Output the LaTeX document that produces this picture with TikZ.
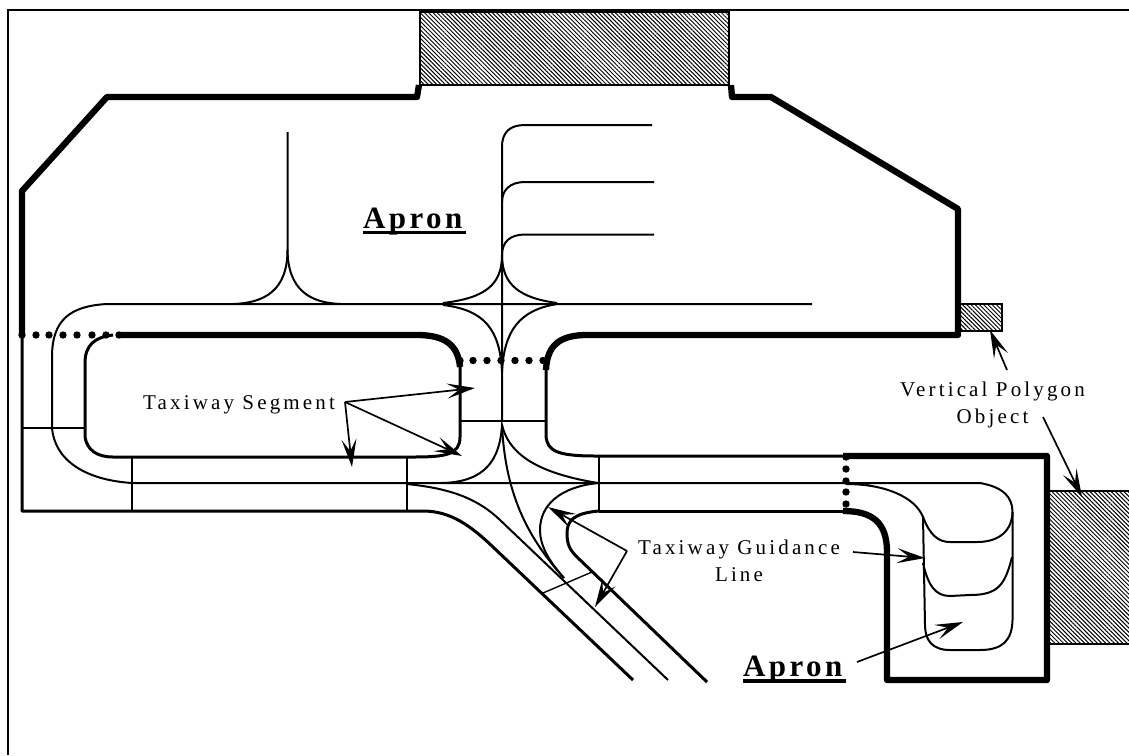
\documentclass[tikz,border=0pt]{standalone}
\usepackage{fontspec}
\setmainfont{Liberation Serif}
\newfontfamily\labelfont[LetterSpace=15]{Liberation Serif}
\newfontfamily\apronfont[LetterSpace=11]{Liberation Serif}
\usetikzlibrary{arrows.meta, positioning, calc, patterns.meta}
\tikzset{
  boundary/.style={line width=6.3pt, line join=round},
  edgeline/.style={line width=3pt, line join=round},
  guideline/.style={line width=2pt},
  thinline/.style={line width=1.4pt},
  hatched/.style={draw, line width=1.5pt, pattern={Lines[angle=-45,distance=3pt,line width=1pt]}},
  pointer/.style={line width=1.7pt, -{Stealth[length=28pt,width=15pt,inset=12pt]}},
  smalltext/.style={font=\labelfont\fontsize{21}{27}\selectfont, align=center, inner sep=0pt},
  apronname/.style={font=\apronfont\bfseries\fontsize{31}{31}\selectfont, inner sep=0pt, anchor=base west},
}
\begin{document}
\begin{tikzpicture}[x=1pt, y=-1pt]
  \useasboundingbox (0,0) rectangle (1129,755);
  % frame
  \draw[line width=2pt] (7.5,755) -- (7.5,10) -- (1129,10);

  % vertical polygons
  \draw[hatched] (420,12) rectangle (729,85);
  \draw[hatched] (957,304) rectangle (1002,331);
  \draw[line width=1.5pt] (1129,491) -- (1049,491) -- (1049,644) -- (1129,644);
  \fill[pattern={Lines[angle=-45,distance=3pt,line width=1pt]}] (1049,491) rectangle (1129,644);

  % apron boundary
  \draw[boundary] (22,335) -- (22,191) -- (107,97) -- (417,97) -- (419,85);
  \draw[boundary] (731,85) -- (732,97) -- (771,97) -- (958,209) -- (958,335) -- (587,335)
    .. controls (560,335) and (547,345) .. (546,370);
  \draw[boundary] (119,335) -- (417,335) .. controls (445,335) and (458,345) .. (460,367);
  \draw[boundary] (843,511) .. controls (872,511) and (887,522) .. (887,552)
    -- (887,680) -- (1047,680) -- (1047,456) -- (843,456);

  % taxiway edges
  \draw[edgeline] (22,335) -- (22,511) -- (423,511) .. controls (450,511) and (470,525) .. (493,547) -- (633,680);
  \draw[edgeline] (113,335) .. controls (95,337) and (85,345) .. (85,363) -- (85,437)
    .. controls (87,450) and (97,457) .. (113,457) -- (413,457)
    .. controls (445,457) and (460,455) .. (460,437) -- (460,367);
  \draw[edgeline] (546,370) -- (546,437) .. controls (548,450) and (555,456) .. (595,456) -- (843,456);
  \draw[edgeline] (599,511) -- (843,511);
  \draw[edgeline] (599,511) .. controls (575,513) and (567,520) .. (567,533)
    .. controls (567,545) and (570,550) .. (577,557) -- (707,682);

  % crossing lines
  \foreach \xa/\ya/\xb/\yb in {22/428/85/428, 132/457/132/511, 407/457/407/511, 599/456/599/511, 460/421/546/421, 543/593/592/572} {
    \draw[thinline] (\xa,\ya) -- (\xb,\yb);
  }

  % guidance lines
  \draw[guideline] (812,304) -- (107,304) .. controls (70,306) and (52,320) .. (52,357) -- (52,427)
    .. controls (54,460) and (85,480) .. (132,483) -- (980,483)
    .. controls (1003,487) and (1012.5,497) .. (1012.5,512) -- (1012.5,620)
    .. controls (1012,640) and (1003,650) .. (980,650) -- (950,650)
    .. controls (932,650) and (925,640) .. (925,625) -- (923,517)
    .. controls (915,497) and (885,484) .. (846,484);
  \draw[guideline] (923,517) .. controls (930,535) and (938,542) .. (950,542) -- (977,542)
    .. controls (1000,542) and (1012,530) .. (1012.5,512);
  \draw[guideline] (923,563) .. controls (928,585) and (935,596) .. (950,596) -- (970,595)
    .. controls (998,595) and (1005,585) .. (1012,557);
  \draw[guideline] (407,484) .. controls (445,488) and (475,496) .. (500,520) -- (668,680);
  \draw[guideline] (287.5,132) -- (287.5,250) .. controls (287.5,290) and (265,303) .. (233,304);
  \draw[guideline] (287.5,250) .. controls (288,290) and (310,303) .. (341,304);
  \draw[guideline] (652,125) -- (525,125) .. controls (510,125) and (502,132) .. (502,147) -- (502,421);
  \draw[guideline] (654,182) -- (525,182) .. controls (510,182) and (502,190) .. (502,202);
  \draw[guideline] (654,234.5) -- (525,234.5) .. controls (510,234.5) and (502,242) .. (502,255);
  % flares at the centre line
  \draw[guideline] (443,303) .. controls (485,298) and (502,285) .. (502,255) .. controls (502,285) and (520,298) .. (557,303);
  \draw[guideline] (443,305) .. controls (485,310) and (500,330) .. (502,372) .. controls (504,330) and (520,310) .. (557,304);
  \draw[guideline] (442,483) .. controls (485,482) and (500,460) .. (502,425) .. controls (508,450) and (530,472) .. (598,483);
  \draw[guideline] (502,425) .. controls (505,490) and (525,535) .. (564,578);
  \draw[guideline] (598,483) .. controls (560,487) and (540,505) .. (540,530) .. controls (540,545) and (548,560) .. (564,578);

  % gaps
  \foreach \x in {22,36,49,63,77,92,106,119} {
    \fill (\x,335) circle (3.7pt);
  }
  \foreach \x in {460,473,487,501,515,529,543} {
    \fill (\x,360.5) circle (3.7pt);
  }
  \foreach \y in {457,469,481,492,504} {
    \fill (846,\y) circle (3.7pt);
  }

  % labels
  \node[apronname] (apronTop) at (363,228) {Apron};
  \node[apronname] (apronBay) at (743,676) {Apron};
  \draw[line width=3.2pt] ($(apronTop.base west)+(0,4.5)$) -- ($(apronTop.base east)+(3,4.5)$);
  \draw[line width=3.2pt] ($(apronBay.base west)+(0,5)$) -- ($(apronBay.base east)+(3,5)$);
  \node[smalltext, anchor=base] (segmentText) at (239,409) {Taxiway Segment};
  \node[smalltext] (guidanceText) at (739,561) {Taxiway Guidance\\Line};
  \node[smalltext] (verticalText) at (992.5,405) {Vertical Polygon\\Object};

  % arrows
  \coordinate (segmentFrom) at (345,402);
  \coordinate (segmentTipA) at (475,388);
  \coordinate (segmentTipB) at (462,456);
  \coordinate (segmentTipC) at (352,467);
  \foreach \tipname in {segmentTipA, segmentTipB, segmentTipC} {
    \draw[pointer] (segmentFrom) -- (\tipname);
  }
  \coordinate (guidanceFrom) at (627,551);
  \coordinate (guidanceTipA) at (548,507);
  \coordinate (guidanceTipB) at (595,607);
  \foreach \tipname in {guidanceTipA, guidanceTipB} {
    \draw[pointer] (guidanceFrom) -- (\tipname);
  }
  \coordinate (guidanceFromB) at (853,552);
  \coordinate (guidanceTipC) at (925,558);
  \draw[pointer] (guidanceFromB) -- (guidanceTipC);
  \coordinate (verticalFromA) at (1007,370);
  \coordinate (verticalTipA) at (990,330);
  \draw[pointer] (verticalFromA) -- (verticalTipA);
  \coordinate (verticalFromB) at (1043,417);
  \coordinate (verticalTipB) at (1082,497);
  \draw[pointer] (verticalFromB) -- (verticalTipB);
  \coordinate (apronFrom) at (857,662);
  \coordinate (apronTip) at (963,622);
  \draw[pointer] (apronFrom) -- (apronTip);
\end{tikzpicture}
\end{document}
